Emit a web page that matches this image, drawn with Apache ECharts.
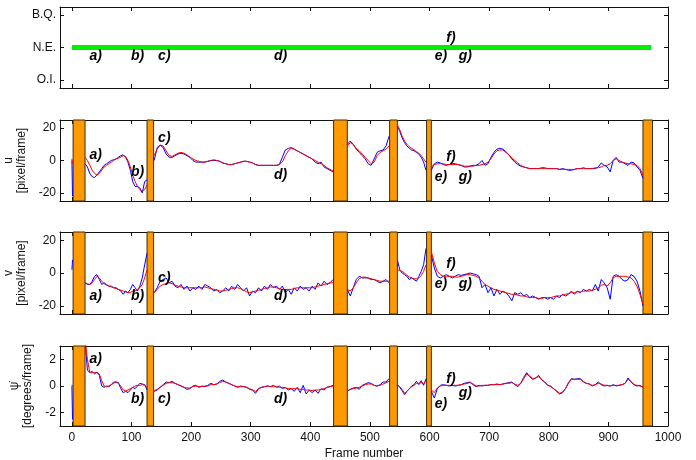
<!DOCTYPE html>
<html>
<head>
<meta charset="utf-8">
<script src="https://cdn.jsdelivr.net/npm/echarts@6/dist/echarts.min.js"></script>
<style>
  html, body { margin: 0; padding: 0; background: #fff; }
  #chart { width: 696px; height: 460px; }
</style>
</head>
<body>
<div id="chart"></div>
<script>
// segments of frames between the orange bars
const segStart = [0, 22, 138, 462, 546, 603];
const segStep = [1, 4, 5, 5, 4, 5];
const barRanges = [[2, 22], [126, 137], [439, 462], [533, 546], [595, 603], [958, 974]];
const xTicks = [0, 100, 200, 300, 400, 500, 600, 700, 800, 900, 1000];
const stateTicks = [-1, 0, 1];
const stateNames = { "-1": "O.I.", "0": "N.E.", "1": "B.Q." };
const stateLine = [[0, 0], [972, 0]];
const letters = ["a)", "b)", "c)", "d)", "e)", "f)", "g)"];
const letterFrames = [40, 110, 155, 350, 619, 636, 660];
const stateLetterY = [-0.28, -0.28, -0.28, -0.28, -0.28, 0.3, -0.28];
const uLetterY = [3, -7, 14, -9, -10, 2, -10];
const vLetterY = [-14, -14, -3, -14, -7, 5.5, -7];
const rLetterY = [2.05, -0.95, -0.95, -0.95, -1.35, 0.55, -0.55];

// u [pixel/frame]
const uBlue = [
  [0, -22],
  [-2, -4, -8, -10, -10.5, -9, -7, -5, -3, -2, -1, 0, 0.5, 1, 2, 3, 3.5, 2, -1, -6, -13, -16, -16, -17, -20, -13, -12],
  [0, 8, 9.5, 8, 4, 2, 2, 3, 4, 4.5, 4, 3, 2, 0, -1, -1, -1, -1, -0.5, 0, 0, 0, -0.5, -1.5, -2, -2.5, -2.5, -2, -1.5, -1,
   -0.5, -0.5, -1, -1.5, -2.5, -3, -3, -3, -3, -3, -3, -3, -2.5, 2, 6.5, 7.5, 8, 7, 6, 5, 4, 3, 2, 1, -1, -2, -1, -4, -5, -6, -7],
  [10, 12, 10, 7, 5, 3, 1, -2, -3, 1, 5, 6, 6.5, 9, 15],
  [21, 18, 14, 11, 9, 7.5, 6.5, 6, 5, 4, 2, -1, -6],
  [-6, -2, -1, -1.5, -2.5, -3, -2.5, -2, -2, -2.5, -3, -4, -4, -3.5, -3, -3, -2, 0, -3, -2, 2, 5, 7, 7.5, 7, 5.5, 3.5, 1, -1, -2.5,
   -3.5, -4, -4.5, -5, -5, -5, -5, -4.5, -4.5, -5, -5, -5, -5, -5.5, -5, -5.5, -6, -6, -5.5, -5, -5, -4.5, -5, -5, -5, -5,
   -4, -1.5, -3, -4, -7, 0, 2, -1, -1, -2, -3, -1, -1.5, -4, -6, -11]
];
const uRed = [
  [1, -2],
  [2, 0, -3, -6, -8, -9, -8, -6, -4, -3, -2, -1, 0, 1, 1.5, 2, 3, 2.5, 0, -4, -9, -13, -16, -18, -19, -18, -15],
  [3, 7, 9.5, 9, 6, 3, 2.5, 3.5, 4.5, 5, 4.5, 3.5, 2, 1, 0, -0.5, -1, -1, -0.5, 0, 0.5, 0, -0.5, -1.5, -2, -2.5, -2.5, -2, -1.5, -1,
   -0.5, -0.5, -1, -1.5, -2.5, -3, -3, -3, -3, -3, -3, -3, -2.5, -1, 3, 6, 7.5, 7, 6, 5, 4, 3, 2, 1, 0, -1, -2, -3, -4.5, -5.5, -6.5],
  [9, 11, 10, 7.5, 6, 4, 2, 0, -2, -1, 3, 5, 6, 7, 9],
  [22, 19, 15, 12, 10, 8.5, 7.5, 6.5, 5.5, 4.5, 3, 1, -1],
  [-4, -2.5, -2, -2, -2, -2.5, -2.5, -2.5, -2.5, -2.5, -3, -3.5, -3.5, -3.5, -3.5, -3, -3, -2.5, -2, -1, 1, 4, 6, 6.5, 6.5, 5, 3.5, 1.5, 0, -1.5,
   -3, -4, -4.5, -5, -5, -5, -5, -5, -5, -5, -5, -5, -5, -5.5, -5.5, -5.5, -5.5, -5.5, -5.5, -5, -5, -5, -5, -5, -5, -4.5,
   -4.5, -4, -3, -3, -2, 0, 1, 0, -1, -1.5, -2, -2, -2.5, -3, -5, -9]
];

// v [pixel/frame]
const vBlue = [
  [2, 8],
  [-6, -7, -7, -5, -2, -1, -4, -7, -6, -7, -8, -8, -9, -9, -10, -11, -13, -11, -12, -10, -7, -9, -11, -8, -3, 5, 12],
  [-12, -9, -5, -4, -3, -6, -5, -8, -9, -7, -10, -8, -11, -9, -10, -8, -10, -7, -8, -9, -11, -10, -12, -11, -9, -11, -8, -10, -7, -9,
   -11, -9, -14, -11, -12, -9, -11, -8, -10, -7, -9, -8, -10, -8, -12, -10, -13, -9, -11, -8, -10, -9, -11, -8, -10, -6, -8, -5, -7, -6, -4],
  [-10, -14, -9, -4, -2, -3, -3, -3, -4, -4, -5, -6, -5, -4, -6],
  [8, 2, 0, -1, -2, -4, -3, -4, -5, -2, 1, 5, 15],
  [11, 3, -2, -3, -2, -1, -2, -3, -2, -1, -1.5, -1, -0.5, 0, -0.5, -1, -2, -9, -7, -12, -9, -14, -10, -13, -11, -12, -14, -17, -12, -13,
   -12, -14, -13, -15, -14, -15, -16, -15, -15, -16, -15, -16, -14, -15, -13, -14, -13, -11, -13, -11, -12, -10, -11, -10, -11, -7,
   -11, -4, -6, -9, -16, -2, -1, -2, -4, -5, -4, -1, -2, -5, -11, -20]
];
const vRed = [
  [0, 0],
  [-6, -6.5, -7, -6, -4, -2, -3, -5, -6.5, -7.5, -8, -8.5, -9, -9.5, -10, -10.5, -11, -11.5, -12, -12, -11, -11, -10, -9, -7, -3, 2],
  [-12, -10, -8, -7, -6.5, -6, -6.5, -7.5, -8, -8.5, -9, -9, -9, -9, -9, -9, -9, -8.5, -9, -9.5, -10, -10.5, -11, -11, -10.5, -10, -9.5, -9, -9, -9.5,
   -10.5, -11.5, -12, -11.5, -11, -10.5, -10, -9.5, -9, -8.5, -8.5, -9, -9.5, -10, -10, -10, -10, -9.5, -9, -9, -9, -9, -9, -9, -8.5, -8, -7.5, -7, -6.5, -6, -6],
  [-10, -11, -9, -6, -3.5, -2.5, -2.5, -3, -3.5, -4, -4.5, -5, -5, -5, -5],
  [2, 1.5, 1, 0, -1.5, -2.5, -3, -3.5, -3.5, -3, -1.5, 1, 5],
  [13, 6, 1, -1, -2, -2, -2, -2, -2.5, -2.5, -2, -1.5, -1, -1, -1.5, -2, -3, -5, -7, -8, -9, -10, -10.5, -11, -11.5, -12, -12.5, -13, -13, -13.5,
   -14, -14, -14.5, -15, -15, -15, -15.5, -15.5, -15, -15, -15, -14.5, -14, -14, -13.5, -13, -12.5, -12, -12, -11.5, -11.5, -11, -11, -11, -10.5, -10,
   -9, -7.5, -7, -8, -6, -3, -2, -2, -2, -2, -2.5, -3, -5, -8, -13, -19]
];

// yaw rate [degrees/frame]
const rBlue = [
  [0, -2.5],
  [3.5, 1.2, 1.0, 1.1, 0.9, 1.05, 0.8, 0.0, -0.1, 0.0, -0.05, 0.1, 0.3, 0.3, 0.25, -0.2, -0.5, -0.4, -0.5, -0.3, -0.1, -0.2, 0.0, 0.2, 0.15, 0.1, -0.3],
  [-0.4, -0.3, -0.1, 0.1, 0.3, 0.25, 0.35, 0.2, 0.1, 0.0, -0.1, -0.25, -0.2, 0.0, 0.05, -0.1, 0.0, -0.05, 0.05, 0.2, 0.1, 0.15, 0.35, 0.45, 0.3, 0.2, 0.1, 0.0, -0.1, 0.0,
   -0.05, -0.1, -0.25, -0.3, -0.55, -0.2, -0.1, -0.05, 0.0, -0.05, 0.05, -0.1, 0.0, -0.2, -0.1, -0.3, -0.2, -0.4, -0.1, -0.5, 0.05, -0.6, -0.3, -0.5, -0.3, -0.55, -0.2, -0.3, -0.1, -0.05, 0.05],
  [-0.4, -0.25, -0.15, -0.1, -0.25, 0.05, 0.15, 0.25, 0.2, 0.05, 0.0, 0.1, 0.3, 0.3, 0.55],
  [0.1, -0.1, -0.35, -0.65, -0.4, -0.2, 0.0, 0.1, 0.35, 0.1, 0.4, 0.05, 0.55],
  [-0.4, -0.9, -0.2, 0.05, 0.1, 0.05, 0.0, 0.05, 0.0, 0.05, 0.1, 0.2, 0.25, 0.3, 0.1, -0.05, 0.05, 0.0, 0.05, 0.05, 0.1, 0.1, 0.15, 0.1, 0.15, 0.2, 0.25, 0.3, 0.1, -0.05,
   0.2, 0.65, 1.0, 0.7, 0.5, 0.6, 0.8, 0.45, 0.3, 0.05, 0.0, -0.2, -0.4, -0.6, -0.5, -0.2, 0.25, 0.55, 0.5, 0.55, 0.55, 0.3, 0.2, 0.15, 0.0, 0.1,
   0.3, 0.1, 0.0, 0.05, 0.0, 0.1, 0.0, 0.05, 0.1, 0.2, 0.6, 0.3, 0.1, 0.0, 0.05, -0.1]
];
const rRed = [
  [0.1, 0],
  [3.5, 2.0, 1.0, 1.0, 1.0, 1.0, 0.9, 0.4, 0.0, -0.05, 0.0, 0.1, 0.2, 0.3, 0.2, 0.0, -0.3, -0.35, -0.3, -0.2, -0.1, 0.0, 0.05, 0.05, 0.1, 0.05, -0.1],
  [-0.35, -0.25, -0.1, 0.05, 0.2, 0.25, 0.25, 0.2, 0.1, 0.0, -0.1, -0.15, -0.15, -0.05, 0.0, -0.05, -0.05, 0.0, 0.0, 0.1, 0.1, 0.15, 0.25, 0.35, 0.3, 0.2, 0.1, 0.0, -0.05, -0.05,
   -0.05, -0.1, -0.2, -0.3, -0.4, -0.2, -0.1, -0.05, 0.0, -0.05, -0.05, -0.05, -0.1, -0.1, -0.15, -0.2, -0.2, -0.2, -0.2, -0.25, -0.25, -0.3, -0.3, -0.35, -0.3, -0.3, -0.25, -0.2, -0.1, -0.05, 0.0],
  [-0.35, -0.25, -0.2, -0.15, -0.1, 0.0, 0.1, 0.15, 0.15, 0.05, 0.0, 0.05, 0.15, 0.25, 0.35],
  [0.1, -0.05, -0.25, -0.55, -0.4, -0.2, -0.05, 0.05, 0.2, 0.2, 0.25, 0.2, 0.35],
  [-0.3, -0.5, -0.15, 0.0, 0.05, 0.05, 0.05, 0.05, 0.05, 0.05, 0.1, 0.15, 0.2, 0.25, 0.15, 0.0, 0.0, 0.05, 0.05, 0.05, 0.1, 0.1, 0.1, 0.1, 0.15, 0.2, 0.2, 0.25, 0.15, 0.05,
   0.2, 0.55, 0.9, 0.75, 0.55, 0.6, 0.7, 0.5, 0.3, 0.1, -0.05, -0.2, -0.35, -0.55, -0.45, -0.2, 0.2, 0.5, 0.5, 0.5, 0.5, 0.35, 0.2, 0.15, 0.05, 0.1,
   0.2, 0.15, 0.05, 0.05, 0.0, 0.05, 0.05, 0.05, 0.1, 0.2, 0.5, 0.35, 0.1, 0.05, 0.0, -0.05]
];

const FONT = "Liberation Sans";

function buildLine(segs) {
  const out = [];
  segs.forEach((vals, s) => {
    vals.forEach((v, i) => out.push([segStart[s] + i * segStep[s], v]));
    if (s < segs.length - 1) out.push([segStart[s] + vals.length * segStep[s], "-"]);
  });
  return out;
}

function letterData(ys) {
  return letters.map((t, i) => [letterFrames[i], ys[i], t]);
}

const grids = [
  { left: 60, right: 28, top: 7, height: 81 },
  { left: 60, right: 28, top: 120, height: 81 },
  { left: 60, right: 28, top: 232, height: 82 },
  { left: 60, right: 28, top: 346, height: 80 },
];

const yRange = [[-1.25, 1.25], [-25, 25], [-25, 25], [-3, 3]];
const yTicks = [stateTicks, [-20, 0, 20], [-20, 0, 20], [-2, 0, 2]];
const yNames = ["", "u\n[pixel/frame]", "v\n[pixel/frame]", "\u03C8\u0307\n[degrees/frame]"];

const lineStyle = { color: "#111", width: 1 };
const tick = (vals) => ({ show: true, inside: true, length: 4, customValues: vals, lineStyle: { color: "#111" } });

let xAxis = [];
let yAxis = [];
grids.forEach((g, i) => {
  const last = i === grids.length - 1;
  xAxis.push({
    type: "value", gridIndex: i, min: -20, max: 1000, position: "bottom",
    axisLine: { show: true, onZero: false, lineStyle },
    axisTick: tick(xTicks),
    axisLabel: {
      show: last, customValues: xTicks, fontFamily: FONT, fontSize: 12, color: "#111", margin: 6,
      formatter: (v) => String(v),
    },
    splitLine: { show: false },
    name: last ? "Frame number" : "", nameLocation: "middle", nameGap: 22,
    nameTextStyle: { fontFamily: FONT, fontSize: 12, color: "#111" },
  });
  xAxis.push({
    type: "value", gridIndex: i, min: -20, max: 1000, position: "top",
    axisLine: { show: true, onZero: false, lineStyle },
    axisTick: tick(xTicks),
    axisLabel: { show: false },
    splitLine: { show: false },
  });
  yAxis.push({
    type: "value", gridIndex: i, min: yRange[i][0], max: yRange[i][1], position: "left",
    axisLine: { show: true, onZero: false, lineStyle },
    axisTick: tick(yTicks[i]),
    axisLabel: {
      customValues: yTicks[i], fontFamily: FONT, fontSize: 12, color: "#111", margin: 4,
      formatter: i === 0 ? (v) => stateNames[String(v)] : (v) => String(v),
    },
    splitLine: { show: false },
    name: yNames[i], nameLocation: "middle", nameRotate: 90, nameGap: 23,
    nameTextStyle: { fontFamily: FONT, fontSize: 12, color: "#111", lineHeight: 13 },
  });
  yAxis.push({
    type: "value", gridIndex: i, min: yRange[i][0], max: yRange[i][1], position: "right",
    axisLine: { show: true, onZero: false, lineStyle },
    axisTick: tick(yTicks[i]),
    axisLabel: { show: false },
    splitLine: { show: false },
  });
});

const letterLabel = {
  show: true, position: "inside", formatter: (p) => p.data[2],
  fontFamily: FONT, fontSize: 14, fontStyle: "italic", fontWeight: "bold",
  color: "#000", textBorderWidth: 0, opacity: 1,
};

function letterSeries(i, ys) {
  return {
    type: "scatter", xAxisIndex: 2 * i, yAxisIndex: 2 * i, symbolSize: 0,
    itemStyle: { color: "#000" },
    data: letterData(ys), label: letterLabel, z: 10, silent: true,
  };
}

const markBars = {
  silent: true,
  itemStyle: { color: "#FF9900", borderColor: "#3a2c14", borderWidth: 1, opacity: 1 },
  data: barRanges.map((r) => [{ xAxis: r[0] }, { xAxis: r[1] }]),
};

function panelSeries(i, blue, red) {
  return [
    {
      type: "line", xAxisIndex: 2 * i, yAxisIndex: 2 * i, data: buildLine(blue),
      showSymbol: false, symbol: "none", lineStyle: { color: "#0000FF", width: 1 }, z: 3,
      markArea: markBars, animation: false,
    },
    {
      type: "line", xAxisIndex: 2 * i, yAxisIndex: 2 * i, data: buildLine(red),
      showSymbol: false, symbol: "none", lineStyle: { color: "#FF0000", width: 1 }, z: 4, animation: false,
    },
  ];
}

const series = [
  {
    type: "line", xAxisIndex: 0, yAxisIndex: 0, data: stateLine, symbol: "none",
    lineStyle: { color: "#00EE00", width: 5 }, animation: false,
  },
  letterSeries(0, stateLetterY),
  ...panelSeries(1, uBlue, uRed),
  letterSeries(1, uLetterY),
  ...panelSeries(2, vBlue, vRed),
  letterSeries(2, vLetterY),
  ...panelSeries(3, rBlue, rRed),
  letterSeries(3, rLetterY),
];

const myChart = echarts.init(document.getElementById("chart"));
const option = {
  animation: false,
  backgroundColor: "#fff",
  grid: grids.map((g) => Object.assign({ containLabel: false, outerBoundsMode: "none" }, g)),
  xAxis: xAxis,
  yAxis: yAxis,
  series: series,
};
option && myChart.setOption(option);
</script>
</body>
</html>
